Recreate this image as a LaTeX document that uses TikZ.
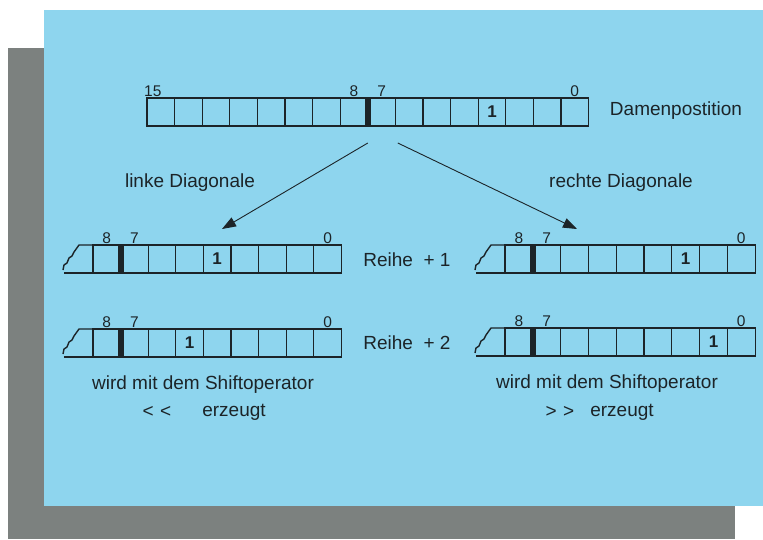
\documentclass[tikz,border=0pt]{standalone}
\usepackage{fontspec}
\setmainfont{Liberation Sans}
\usetikzlibrary{arrows.meta}
\definecolor{bgblue}{RGB}{142,213,238}
\definecolor{shadowgrey}{RGB}{124,129,127}
\definecolor{ink}{RGB}{28,36,40}
\begin{document}
\begin{tikzpicture}[x=1pt,y=-1pt,
  cell/.style={draw=ink, line width=1.2pt, minimum width=27.6pt, minimum height=28pt,
    inner sep=0pt, outer sep=0pt, anchor=north west},
  rcell/.style={cell, minimum width=27.8pt},
  one/.style={font=\fontsize{17}{17}\selectfont\bfseries, text=ink, inner sep=0pt},
  bitlabel/.style={font=\fontsize{15.5}{15.5}\selectfont, text=ink, inner sep=0pt},
  txt/.style={font=\fontsize{19}{20}\selectfont, text=ink, inner sep=0pt},
  jag/.style={draw=ink, line width=1.4pt, line join=round},
  edge/.style={draw=ink, line width=1.2pt},
  arrowline/.style={draw=ink, line width=0.9pt, -{Triangle[length=14pt,width=10pt]}}]

\useasboundingbox (0,0) rectangle (763,539);
\fill[white] (0,0) rectangle (763,539);
\fill[shadowgrey] (8,48) rectangle (735,539);
\fill[bgblue] (44,10) rectangle (763,506);

% ---------- top register (bits 15..0)
\foreach \i in {0,...,15} \node[cell] (t\i) at ({147+27.6*\i},98) {};
\fill[ink] ([xshift=-3pt]t8.north west) rectangle ([xshift=3pt]t8.south west);
\node[one] at (t12.center) {1};
\node[bitlabel, anchor=west] (l15) at (144,91.5) {15};
\node[bitlabel] (l8) at ([yshift=7pt]t7.north) {8};
\node[bitlabel] (l7) at ([yshift=7pt]t8.north) {7};
\node[bitlabel] (l0) at ([yshift=7pt]t15.north) {0};
\node[txt] (dame) at (676,111) {Damenpostition};

% ---------- arrows
\coordinate (ls) at ([yshift=-17pt]t8.south west);
\coordinate (rs) at ([shift={(30pt,-17pt)}]t8.south west);
\coordinate (le) at (222,229);
\coordinate (re) at (577,229);
\draw[arrowline] (ls) -- (le);
\draw[arrowline] (rs) -- (re);
\node[txt] (linke) at (190,183) {linke Diagonale};
\node[txt] (rechte) at (621,183) {rechte Diagonale};

% ---------- left row +1
\foreach \i in {0,...,8} \node[cell] (a\i) at ({93+27.6*\i},245) {};
\fill[ink] ([xshift=-3pt]a1.north west) rectangle ([xshift=3pt]a1.south west);
\draw[jag] (a0.north west) -- ++(-14,0) -- ++(-5,7) -- ++(-2,4) -- ++(-3,2) -- ++(-2,5) -- ++(-3,2) -- ++(-1,5);
\draw[edge] (a0.south west) -- ++(-29,0);
\node[one] at (a4.center) {1};
\node[bitlabel] at ([yshift=7pt]a0.north) {8};
\node[bitlabel] at ([yshift=7pt]a1.north) {7};
\node[bitlabel] at ([yshift=7pt]a8.north) {0};

% ---------- left row +2
\foreach \i in {0,...,8} \node[cell] (b\i) at ({93+27.6*\i},329) {};
\fill[ink] ([xshift=-3pt]b1.north west) rectangle ([xshift=3pt]b1.south west);
\draw[jag] (b0.north west) -- ++(-14,0) -- ++(-5,7) -- ++(-2,4) -- ++(-3,2) -- ++(-2,5) -- ++(-3,2) -- ++(-1,5);
\draw[edge] (b0.south west) -- ++(-29,0);
\node[one] at (b3.center) {1};
\node[bitlabel] at ([yshift=7pt]b0.north) {8};
\node[bitlabel] at ([yshift=7pt]b1.north) {7};
\node[bitlabel] at ([yshift=7pt]b8.north) {0};

% ---------- right row +1
\foreach \i in {0,...,8} \node[rcell] (c\i) at ({505+27.8*\i},245) {};
\fill[ink] ([xshift=-3pt]c1.north west) rectangle ([xshift=3pt]c1.south west);
\draw[jag] (c0.north west) -- ++(-14,0) -- ++(-5,7) -- ++(-2,4) -- ++(-3,2) -- ++(-2,5) -- ++(-3,2) -- ++(-1,5);
\draw[edge] (c0.south west) -- ++(-29,0);
\node[one] at (c6.center) {1};
\node[bitlabel] at ([yshift=7pt]c0.north) {8};
\node[bitlabel] at ([yshift=7pt]c1.north) {7};
\node[bitlabel] at ([yshift=7pt]c8.north) {0};

% ---------- right row +2
\foreach \i in {0,...,8} \node[rcell] (d\i) at ({505+27.8*\i},328) {};
\fill[ink] ([xshift=-3pt]d1.north west) rectangle ([xshift=3pt]d1.south west);
\draw[jag] (d0.north west) -- ++(-14,0) -- ++(-5,7) -- ++(-2,4) -- ++(-3,2) -- ++(-2,5) -- ++(-3,2) -- ++(-1,5);
\draw[edge] (d0.south west) -- ++(-29,0);
\node[one] at (d7.center) {1};
\node[bitlabel] at ([yshift=7pt]d0.north) {8};
\node[bitlabel] at ([yshift=7pt]d1.north) {7};
\node[bitlabel] at ([yshift=7pt]d8.north) {0};

% ---------- row labels
\node[txt] (r1) at (407,260) {Reihe~ + 1};
\node[txt] (r2) at (407,343) {Reihe~ + 2};

% ---------- bottom texts
\node[txt] (wl) at (203,385) {wird mit dem Shiftoperator};
\node[txt] (wr) at (607,384) {wird mit dem Shiftoperator};
\node[txt] (sl) at (157,412) {<\,\,<};
\node[txt] (el) at (234,412) {erzeugt};
\node[txt] (sr) at (560,412) {>\,\,>};
\node[txt] (er) at (622,412) {erzeugt};
\end{tikzpicture}
\end{document}
